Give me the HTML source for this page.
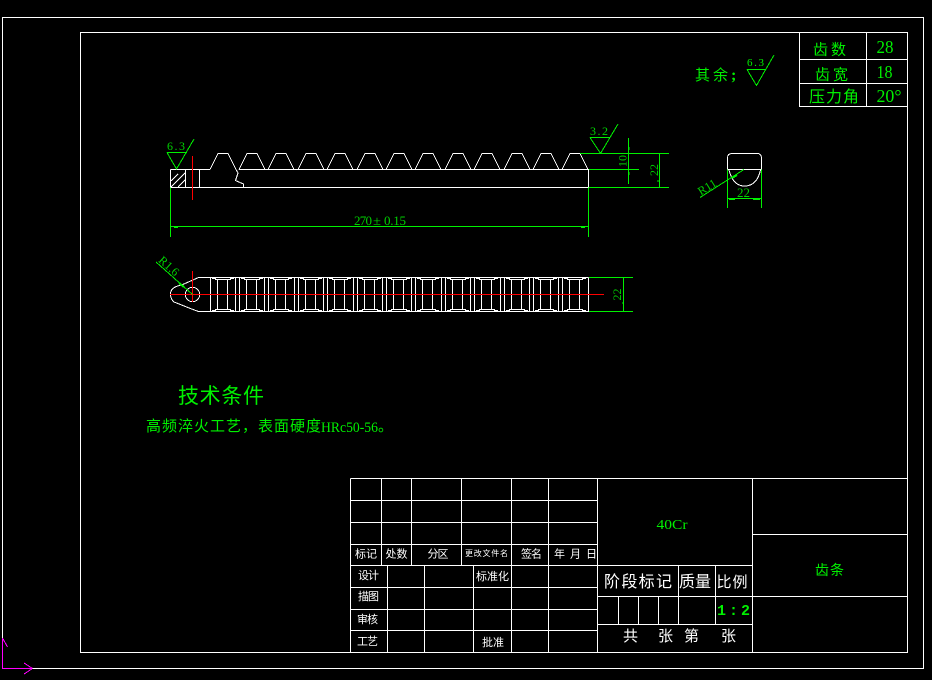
<!DOCTYPE html>
<html lang="zh">
<head>
<meta charset="utf-8">
<title>齿条</title>
<style>
html,body{margin:0;padding:0;background:#000;}
svg{display:block;}
text{font-family:"Noto Sans CJK SC","WenQuanYi Zen Hei",sans-serif;}
.g{fill:#00f000;}
.d{fill:#00d000;font-family:"Liberation Serif",serif;}
.n{fill:#00f000;font-family:"Liberation Serif",serif;}
.w{fill:#fff;}
</style>
</head>
<body>
<svg width="932" height="680" viewBox="0 0 932 680" xmlns="http://www.w3.org/2000/svg">
<rect width="932" height="680" fill="#000"/>
<defs>
<path id="t" d="M0 169.5L8 153.5H18L26 169.5"/>
<path id="m" d="M7.5 279.5V309.5M17.5 279.5V309.5M5 279.5H21M5 309.5H21M2 278.5H6M20 278.5H24M2 310.5H6M20 310.5H24"/>
<path id="b" d="M-3.5 277.5V311.5M.5 277.5V311.5"/>
</defs>

<!-- frames and tables -->
<g fill="none" stroke="#fff" stroke-width="1" shape-rendering="crispEdges">
<path d="M2.5 638V17.5H923.5V668.5H32"/>
<rect x="80.5" y="32.5" width="827" height="620"/>
<path d="M799.5 32.5V106.5H907.5M866.5 32.5V106.5M799.5 59.5H907.5M799.5 83.5H907.5"/>
<path d="M350.5 478.5H907.5M350.5 478.5V652.5M350.5 500.5H597.5M350.5 522.5H597.5M350.5 544.5H597.5M350.5 565.5H752.5M350.5 587.5H597.5M350.5 609.5H597.5M350.5 630.5H597.5"/>
<path d="M381.5 478.5V565.5M411.5 478.5V565.5M461.5 478.5V565.5M511.5 478.5V652.5M548.5 478.5V652.5M597.5 478.5V652.5M387.5 565.5V652.5M424.5 565.5V652.5M473.5 565.5V652.5"/>
<path d="M752.5 478.5V652.5M752.5 534.5H907.5M597.5 596.5H907.5M597.5 624.5H752.5M678.5 565.5V624.5M715.5 565.5V624.5M618.5 596.5V624.5M638.5 596.5V624.5M658.5 596.5V624.5"/>
</g>

<!-- front view -->
<g fill="none" stroke="#fff" stroke-width="1" shape-rendering="crispEdges">
<path d="M170.5 169.5V187.5H588.5V169.5H239M170.5 169.5H210M185.5 169.5V187.5M199.5 169.5V187.5"/>
<path d="M171 181L178 174M171 187L185 173M178 187L185 180"/>
<path d="M236 169.5L238 173L235.5 180.5L243.5 184L243.5 187.5"/>
<use href="#t" x="210"/><use href="#t" x="239"/><use href="#t" x="268"/><use href="#t" x="298"/><use href="#t" x="327"/><use href="#t" x="357"/><use href="#t" x="386"/><use href="#t" x="415"/><use href="#t" x="445"/><use href="#t" x="474"/><use href="#t" x="504"/><use href="#t" x="533"/><use href="#t" x="562"/>
</g>

<!-- side view -->
<g fill="none" stroke="#fff" stroke-width="1" shape-rendering="crispEdges">
<path d="M727.5 169.5V158Q727.5 153.5 732 153.5H757Q761.5 153.5 761.5 158V169.5M727.5 169.5H761.5"/>
<path d="M729 170Q733 186 744.5 186Q757 186 760.5 170"/>
</g>

<!-- plan view -->
<g fill="none" stroke="#fff" stroke-width="1" shape-rendering="crispEdges">
<path d="M588.5 277.5H198.5L193 280L181.5 285Q170.5 287 170.5 294Q170.5 299 174 302L193 309.5L198.5 311.5H588.5V277.5"/>
<circle cx="192.5" cy="294.5" r="7.2"/>
<path d="M210.5 277.5V311.5"/>
<use href="#m" x="210"/><use href="#m" x="239"/><use href="#m" x="268"/><use href="#m" x="298"/><use href="#m" x="327"/><use href="#m" x="357"/><use href="#m" x="386"/><use href="#m" x="415"/><use href="#m" x="445"/><use href="#m" x="474"/><use href="#m" x="504"/><use href="#m" x="533"/><use href="#m" x="562"/>
<use href="#b" x="239"/><use href="#b" x="268"/><use href="#b" x="298"/><use href="#b" x="327"/><use href="#b" x="357"/><use href="#b" x="386"/><use href="#b" x="415"/><use href="#b" x="445"/><use href="#b" x="474"/><use href="#b" x="504"/><use href="#b" x="533"/><use href="#b" x="562"/>
</g>

<!-- red centre lines -->
<g fill="none" stroke="#f00" stroke-width="1" shape-rendering="crispEdges">
<path d="M192.5 156V200M192.5 271V302M170 294.5H604"/>
</g>

<!-- green dimensions -->
<g fill="none" stroke="#00f000" stroke-width="1" shape-rendering="crispEdges">
<path d="M170.5 187.5V237M588.5 187.5V237M170.5 226.5H588.5M174 227.5H178M581 227.5H585"/>
<path d="M167 152.5H187M167 152.5L176.5 169L194 139"/>
<path d="M590 137.5H610M590 137.5L600.5 153.5L618 124"/>
<path d="M580 153.5H669M589 169.5H639M589 187.5H669M628.5 138V184M629 147V150M629 172V175M659.5 153.5V187.5M658 180V182"/>
<path d="M589 277.5H633M589 311.5H633M623.5 277.5V311.5M622 303H623"/>
<path d="M727.5 169.5V208M761.5 169.5V208M727.5 198.5H761.5M729 199.5H735M753 199.5H760"/>
<path d="M700 197.5L744 169.5M156 262L192.5 294.5"/>
<path d="M732 178L737 175M179 283L184 287" stroke-width="2"/>
<path d="M747 69.5H766M747 69.5L756.5 85.5L774 55"/>
</g>

<!-- UCS icon -->
<g fill="none" stroke="#f0f" stroke-width="1" shape-rendering="crispEdges">
<path d="M2.5 638V668.5H32.5M2.5 638L7.5 647M32.5 668.5L24 663M32.5 668.5L24 674"/>
</g>

<!-- dimension text -->
<text class="d" x="167" y="150" font-size="12" textLength="18" lengthAdjust="spacing">6.3</text>
<text class="d" x="590" y="135" font-size="12" textLength="18" lengthAdjust="spacing">3.2</text>
<text class="d" x="354" y="225" font-size="13" textLength="18" lengthAdjust="spacing">270</text>
<text class="d" x="373" y="225" font-size="13" textLength="8" lengthAdjust="spacingAndGlyphs">±</text>
<text class="d" x="384" y="225" font-size="13" textLength="22" lengthAdjust="spacing">0.15</text>
<text class="d" text-anchor="middle" x="622.5" y="165" font-size="12" transform="rotate(-90 622.5 161)">10</text>
<text class="d" text-anchor="middle" x="654" y="174" font-size="12" transform="rotate(-90 654 170)">22</text>
<text class="d" text-anchor="middle" x="617" y="298.5" font-size="12" transform="rotate(-90 617 294.5)">22</text>
<text class="d" text-anchor="middle" x="743.5" y="197" font-size="13">22</text>
<text class="d" text-anchor="middle" x="707" y="191" font-size="12" transform="rotate(-32 707 187)">R11</text>
<text class="d" text-anchor="middle" x="169" y="270" font-size="12" transform="rotate(42 169 266)">R1.6</text>
<text class="d" x="747" y="66" font-size="11" textLength="17" lengthAdjust="spacing" style="fill:#00f000">6.3</text>

<!-- top right -->
<text class="g" x="695" y="80" font-size="15">其</text>
<text class="g" x="713" y="80" font-size="15">余</text>
<text class="n" x="731" y="80" font-size="16" font-weight="700">;</text>
<text class="g" x="813" y="54.5" font-size="15" textLength="33" lengthAdjust="spacing">齿数</text>
<text class="n" x="876.5" y="53" font-size="18" textLength="17" lengthAdjust="spacingAndGlyphs">28</text>
<text class="g" x="815" y="79.5" font-size="15" textLength="33" lengthAdjust="spacing">齿宽</text>
<text class="n" x="876.5" y="78" font-size="18" textLength="16" lengthAdjust="spacingAndGlyphs">18</text>
<text class="g" x="809" y="102" font-size="16" textLength="50" lengthAdjust="spacing">压力角</text>
<text class="n" x="876.5" y="102" font-size="18" textLength="25" lengthAdjust="spacingAndGlyphs">20°</text>

<!-- notes -->
<text class="g" x="178" y="403" font-size="21" textLength="86" lengthAdjust="spacing">技术条件</text>
<text class="g" x="146" y="431" font-size="15" textLength="175" lengthAdjust="spacing">高频淬火工艺，表面硬度</text>
<text class="n" x="321" y="432" font-size="15" textLength="57" lengthAdjust="spacingAndGlyphs">HRc50-56</text>
<text class="g" x="378" y="431" font-size="15">。</text>

<!-- title block -->
<g class="w">
<text x="355" y="557.5" font-size="11" textLength="22" lengthAdjust="spacing">标记</text>
<text x="385.5" y="557.5" font-size="11" textLength="22" lengthAdjust="spacing">处数</text>
<text x="427.5" y="557.5" font-size="11" textLength="21" lengthAdjust="spacing">分区</text>
<text x="465" y="556" font-size="8" textLength="43" lengthAdjust="spacing">更改文件名</text>
<text x="521" y="557.5" font-size="11" textLength="21" lengthAdjust="spacing">签名</text>
<text x="554" y="557.5" font-size="11" textLength="43" lengthAdjust="spacing">年 月 日</text>
<text x="358" y="579" font-size="11" textLength="21" lengthAdjust="spacing">设计</text>
<text x="358" y="600" font-size="11" textLength="21" lengthAdjust="spacing">描图</text>
<text x="357" y="623" font-size="11" textLength="21" lengthAdjust="spacing">审核</text>
<text x="357" y="645" font-size="11" textLength="21" lengthAdjust="spacing">工艺</text>
<text x="476" y="580" font-size="11" textLength="33" lengthAdjust="spacing">标准化</text>
<text x="482" y="646" font-size="11" textLength="22" lengthAdjust="spacing">批准</text>
<text x="604" y="587" font-size="16" textLength="68" lengthAdjust="spacing">阶段标记</text>
<text x="679" y="587" font-size="16" textLength="32" lengthAdjust="spacing">质量</text>
<text x="716.5" y="587" font-size="15" textLength="31" lengthAdjust="spacing">比例</text>
<text x="623" y="641" font-size="15">共</text>
<text x="658" y="641" font-size="15">张</text>
<text x="684" y="641" font-size="15">第</text>
<text x="721" y="641" font-size="15">张</text>
</g>
<text class="n" x="656.5" y="529" font-size="14" textLength="31" lengthAdjust="spacingAndGlyphs">40Cr</text>
<text class="g" x="815" y="575" font-size="14" textLength="29" lengthAdjust="spacing">齿条</text>
<text x="717" y="615" font-size="15" font-weight="700" textLength="33" lengthAdjust="spacing" style="fill:#00f000;font-family:'Liberation Mono',monospace">1:2</text>
</svg>
</body>
</html>
